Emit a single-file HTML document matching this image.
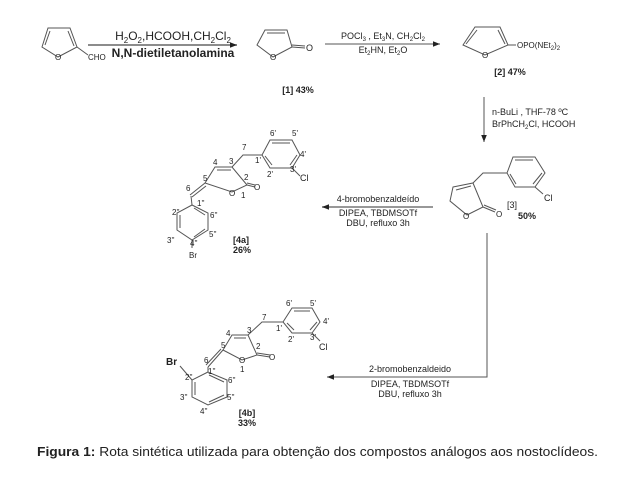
<!DOCTYPE html>
<html><head><meta charset="utf-8"><style>
html,body{margin:0;padding:0;background:#fff;width:640px;height:480px;overflow:hidden}
svg{display:block}
text{font-family:"Liberation Sans",sans-serif;fill:#222}
.s{font-size:9px}
.l{font-size:8px}
</style></head><body>
<svg width="640" height="480" viewBox="0 0 640 480" xmlns="http://www.w3.org/2000/svg">
<defs><marker id="a" viewBox="0 0 10 10" refX="10" refY="5" markerWidth="9" markerHeight="7" orient="auto" markerUnits="userSpaceOnUse"><path d="M0,1 L10,5 L0,9 Z" fill="#222"/></marker></defs>
<g stroke="#555" stroke-width="1" fill="none">
<path d="M48,28 L70,28 L77,47 L58,57 L42,47 Z"/>
<path d="M50,31 L45,45 M68,31 L74,46"/>
<path d="M77,47 L88,55"/>
<path d="M88,45 L237,45" stroke="#666" stroke-width="1.5" marker-end="url(#a)"/>
<path d="M265,30 L287,30 L292,47 L273,57 L257,45 Z"/>
<path d="M267,33 L285,33"/>
<path d="M292,47 L305,48 M292,45 L305,46"/>
<path d="M325,44 L440,44" marker-end="url(#a)"/>
<path d="M475,27 L500,27 L508,45 L485,55 L463,45 Z"/>
<path d="M477,30 L466,44 M498,30 L505,44"/>
<path d="M508,45 L516,45"/>
<path d="M484,97 L484,142" marker-end="url(#a)"/>
<!-- comp3 -->
<path d="M453,187 L473,183 L483,207 L467,215 L450,201 Z"/>
<path d="M456,190 L471,186"/>
<path d="M483,207 L495,212 M484,205 L496,210"/>
<path d="M473,183 L483,173 L507,173"/>
<path d="M507,173 L513,157 L535,157 L545,173 L535,187 L515,187 Z"/>
<path d="M515,160 L533,160 M542,173 L533,184 M516,184 L510,174"/>
<path d="M535,187 L543,194"/>
<path d="M433,207 L322,207" stroke="#777" stroke-width="1.5" marker-end="url(#a)"/>
<path d="M487,233 L487,377 L327,377" marker-end="url(#a)"/>
<!-- 4a -->
<path d="M215,167 L232,167 L247,185 L232,192 L205,183 Z"/>
<path d="M217,170 L231,170"/>
<path d="M247,185 L255,187 M247,183 L255,185"/>
<path d="M232,167 L243,155 L262,155"/>
<path d="M262,155 L270,140 L292,140 L300,155 L292,168 L270,168 Z"/>
<path d="M272,143 L290,143 M297,155 L290,165 M272,165 L265,156"/>
<path d="M292,168 L300,176"/>
<path d="M205,183 L190,195 M206,186 L192,197"/>
<path d="M191,196 L192,205"/>
<path d="M192,205 L177,213 L177,230 L192,240 L208,230 L208,213 Z"/>
<path d="M180,215 L180,228 M194,237 L205,229 M205,215 L194,208"/>
<path d="M192,240 L192,248"/>
<!-- 4b -->
<path d="M232,335 L248,335 L257,355 L242,360 L223,350 Z"/>
<path d="M234,338 L246,338"/>
<path d="M257,355 L270,357 M257,353 L270,355"/>
<path d="M248,335 L262,322 L283,322"/>
<path d="M283,322 L292,308 L312,308 L320,322 L312,333 L292,333 Z"/>
<path d="M294,311 L310,311 M317,322 L310,330 M294,330 L287,323"/>
<path d="M312,333 L320,341"/>
<path d="M223,350 L208,367 M221,349 L206,365"/>
<path d="M208,367 L208,372"/>
<path d="M208,372 L192,380 L192,397 L208,405 L227,397 L227,380 Z"/>
<path d="M195,382 L195,395 M209,402 L224,395 M224,382 L209,375"/>
<path d="M192,380 L180,366"/>
</g>
<text x="88" y="60" class="l">CHO</text>
<text x="173" y="40" text-anchor="middle" font-size="12">H<tspan font-size="8" dy="3">2</tspan><tspan dy="-3">O</tspan><tspan font-size="8" dy="3">2</tspan><tspan dy="-3">,HCOOH,CH</tspan><tspan font-size="8" dy="3">2</tspan><tspan dy="-3">Cl</tspan><tspan font-size="8" dy="3">2</tspan></text>
<text x="173" y="57" text-anchor="middle" font-size="12" font-weight="bold">N,N-dietiletanolamina</text>
<text x="306" y="51" class="s">O</text>
<text x="270" y="60" class="l">O</text>
<text x="55" y="60" class="l">O</text>
<text x="298" y="93" font-size="9" font-weight="bold" text-anchor="middle">[1] 43%</text>
<text x="383" y="39" class="s" text-anchor="middle">POCl<tspan font-size="6" dy="2">3</tspan><tspan dy="-2"> , Et</tspan><tspan font-size="6" dy="2">3</tspan><tspan dy="-2">N, CH</tspan><tspan font-size="6" dy="2">2</tspan><tspan dy="-2">Cl</tspan><tspan font-size="6" dy="2">2</tspan></text>
<text x="383" y="53" class="s" text-anchor="middle">Et<tspan font-size="6" dy="2">2</tspan><tspan dy="-2">HN, Et</tspan><tspan font-size="6" dy="2">2</tspan><tspan dy="-2">O</tspan></text>
<text x="482" y="58" class="l">O</text>
<text x="517" y="48" class="l">OPO(NEt<tspan font-size="6" dy="2">2</tspan><tspan dy="-2">)</tspan><tspan font-size="6" dy="2">2</tspan></text>
<text x="510" y="75" font-size="9" font-weight="bold" text-anchor="middle">[2]  47%</text>
<text x="492" y="115" class="s">n-BuLi , THF-78 ºC</text>
<text x="492" y="127" class="s">BrPhCH<tspan font-size="6" dy="2">2</tspan><tspan dy="-2">Cl, HCOOH</tspan></text>
<text x="463" y="219" class="l">O</text>
<text x="496" y="217" class="l">O</text>
<text x="544" y="201" class="s">Cl</text>
<text x="507" y="208" font-size="9">[3]</text>
<text x="518" y="219" font-size="9" font-weight="bold">50%</text>
<text x="378" y="202" class="s" text-anchor="middle">4-bromobenzaldeído</text>
<text x="378" y="216" class="s" text-anchor="middle">DIPEA, TBDMSOTf</text>
<text x="378" y="226" class="s" text-anchor="middle">DBU, refluxo 3h</text>
<text x="229" y="196" class="l">O</text>
<text x="254" y="190" class="l">O</text>
<text x="300" y="181" class="s">Cl</text>
<text x="213" y="165" class="l">4</text><text x="229" y="164" class="l">3</text>
<text x="244" y="180" class="l">2</text><text x="203" y="181" class="l">5</text>
<text x="241" y="198" class="l">1</text><text x="242" y="150" class="l">7</text>
<text x="255" y="163" class="l">1'</text><text x="267" y="177" class="l">2'</text>
<text x="290" y="172" class="l">3'</text><text x="300" y="157" class="l">4'</text>
<text x="292" y="136" class="l">5'</text><text x="270" y="136" class="l">6'</text>
<text x="186" y="191" class="l">6</text><text x="197" y="206" class="l">1''</text>
<text x="172" y="215" class="l">2''</text><text x="210" y="218" class="l">6''</text>
<text x="167" y="243" class="l">3''</text><text x="190" y="246" class="l">4''</text>
<text x="209" y="237" class="l">5''</text><text x="189" y="258" class="l">Br</text>
<text x="233" y="243" font-size="9" font-weight="bold">[4a]</text>
<text x="233" y="253" font-size="9" font-weight="bold">26%</text>
<text x="410" y="372" class="s" text-anchor="middle">2-bromobenzaldeido</text>
<text x="410" y="387" class="s" text-anchor="middle">DIPEA, TBDMSOTf</text>
<text x="410" y="397" class="s" text-anchor="middle">DBU, refluxo 3h</text>
<text x="239" y="363" class="l">O</text>
<text x="269" y="360" class="l">O</text>
<text x="319" y="350" class="s">Cl</text>
<text x="226" y="336" class="l">4</text><text x="247" y="333" class="l">3</text>
<text x="256" y="349" class="l">2</text><text x="221" y="348" class="l">5</text>
<text x="240" y="372" class="l">1</text><text x="262" y="320" class="l">7</text>
<text x="276" y="331" class="l">1'</text><text x="288" y="342" class="l">2'</text>
<text x="310" y="340" class="l">3'</text><text x="323" y="324" class="l">4'</text>
<text x="310" y="306" class="l">5'</text><text x="286" y="306" class="l">6'</text>
<text x="204" y="363" class="l">6</text><text x="208" y="374" class="l">1''</text>
<text x="185" y="380" class="l">2''</text><text x="228" y="383" class="l">6''</text>
<text x="180" y="400" class="l">3''</text><text x="200" y="414" class="l">4''</text>
<text x="227" y="400" class="l">5''</text>
<text x="166" y="365" font-family="Liberation Serif,serif" font-size="10" font-weight="bold">Br</text>
<text x="247" y="416" font-size="9" font-weight="bold" text-anchor="middle">[4b]</text>
<text x="247" y="426" font-size="9" font-weight="bold" text-anchor="middle">33%</text>
<text x="37" y="456" font-size="12.5" textLength="561" lengthAdjust="spacingAndGlyphs" fill="#111"><tspan font-weight="bold">Figura 1:</tspan> Rota sintética utilizada para obtenção dos compostos análogos aos nostoclídeos.</text>
</svg>
</body></html>
